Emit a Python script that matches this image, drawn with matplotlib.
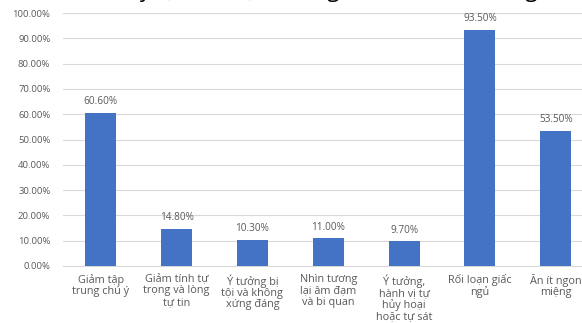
import matplotlib
matplotlib.use("Agg")
import matplotlib.pyplot as plt
from matplotlib.ticker import FuncFormatter

categories = [
    "Giảm tập\ntrung chú ý",
    "Giảm tính tự\ntrọng và lòng\ntự tin",
    "Ý tưởng bị\ntội và không\nxứng đáng",
    "Nhìn tương\nlại âm đạm\nvà bi quan",
    "Ý tưởng,\nhành vị tự\nhủy hoại\nhoặc tự sát",
    "Rối loạn giấc\nngủ",
    "Ăn ít ngon\nmiệng",
]
values = [60.60, 14.80, 10.30, 11.00, 9.70, 93.50, 53.50]
yticks = [0, 10, 20, 30, 40, 50, 60, 70, 80, 90, 100]

plt.rcParams['font.family'] = ['Open Sans', 'DejaVu Sans']
grey = '#595959'

fig = plt.figure(figsize=(5.82, 3.23), dpi=100)
ax = fig.add_axes([0.108, 0.1765, 0.912, 0.783])

x = range(len(categories))
bars = ax.bar(x, values, width=0.41, color='#4472C4', zorder=3)

for xi, v in zip(x, values):
    ax.annotate(f"{v:.2f}%", (xi, v), xytext=(0, 4), textcoords='offset points',
                ha='center', va='bottom', fontsize=7.2, color=grey)

ax.set_ylim(0, 100)
ax.set_xlim(-0.5, len(categories) - 0.5)
ax.set_yticks(yticks)
ax.yaxis.set_major_formatter(FuncFormatter(lambda v, p: f"{v:.2f}%"))
ax.set_xticks(list(x))
ax.set_xticklabels(categories, fontsize=7.8, color=grey, linespacing=1.02)
ax.tick_params(axis='y', labelsize=6.8, colors=grey, length=0, pad=9)
ax.tick_params(axis='x', length=0, pad=6)
ax.grid(axis='y', color='#d9d9d9', linewidth=0.8, zorder=0)
for s in ['top', 'right', 'left']:
    ax.spines[s].set_visible(False)
ax.spines['bottom'].set_color('#d9d9d9')

# title partly cut off at the top of the picture
fig.text(0.0, 1.0 + 3 / 323, "Biểu đồ 3.4: Tỷ lệ các triệu chứng của trầm cảm ở người bệnh",
         fontsize=16, color='black', ha='left', va='baseline')

fig.savefig("out.png", dpi=100)
